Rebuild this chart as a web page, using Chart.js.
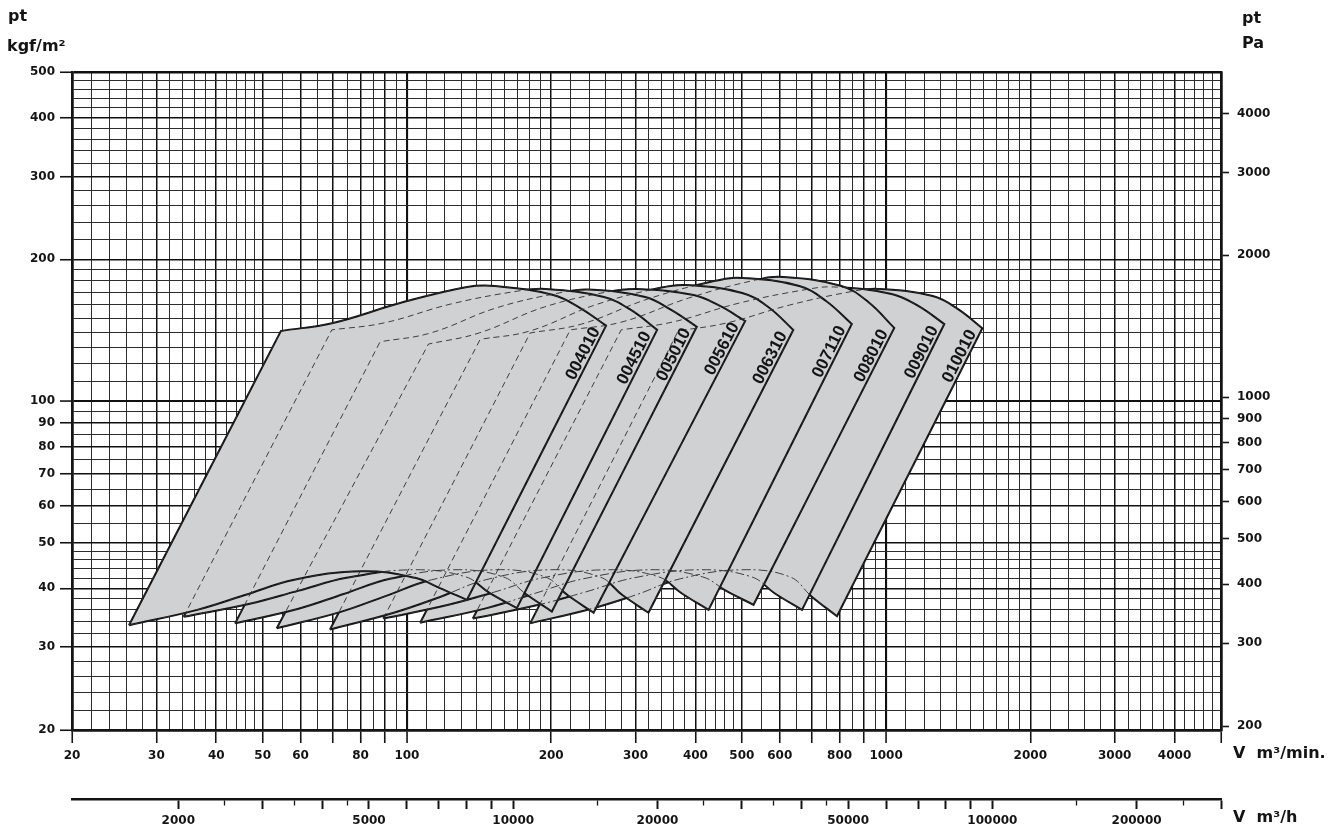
<!DOCTYPE html>
<html>
<head>
<meta charset="utf-8">
<script src="https://cdn.jsdelivr.net/npm/chart.js@4.4.1/dist/chart.umd.min.js"></script>
<style>
  html, body { margin: 0; padding: 0; background: #ffffff; }
  #wrap { width: 1330px; height: 825px; position: relative; }
</style>
</head>
<body>
<div id="wrap"><canvas id="fanChart" width="1330" height="825"></canvas></div>
<script>
// Fan sizes, from the front card (left) to the back card (right)
const fanModels = ['004010', '004510', '005010', '005610', '006310', '007110', '008010', '009010', '010010'];

// Upper boundary of each fan field, left corner to right corner: [V m3/min, pt kgf/m2]
const top004010 = [[54.6,140.9],[70.1,146.5],[96.8,161.5],[133.5,174.7],[152.8,175.5],[202,167.9],[230,157.6],[260.4,144.6]];
const top004510 = [[69.7,141.6],[89.5,146.5],[123.5,160.7],[170.3,171.2],[194.8,173.0],[257.7,166.3],[293.4,156.1],[332.8,141.6]];
const top005010 = [[87.9,133.6],[112.1,139.5],[153.4,157.6],[209.8,170.0],[239.3,172.5],[314.2,166.3],[356.0,156.1],[402.6,143.8]];
const top005610 = [[110.9,132.1],[141.5,139.5],[193.6,158.4],[264.9,170.9],[302.0,173.0],[396.6,167.9],[450.0,159.2],[508.2,147.9]];
const top006310 = [[142.2,135.2],[180.8,140.9],[246.7,159.9],[336.0,173.8],[382.6,176.4],[500.8,169.6],[567.6,158.4],[640.2,141.6]];
const top007110 = [[180.8,139.5],[231.5,145.7],[318.3,164.7],[437.6,179.8],[499.6,182.5],[658.9,175.5],[749.4,163.1],[848.1,145.7]];
const top008010 = [[219.2,141.6],[281.1,147.2],[387.5,165.5],[534.0,180.7],[610.6,183.4],[807.0,175.5],[918.0,162.3],[1040,143.0]];
const top009010 = [[280.0,141.6],[358.9,147.2],[494.2,161.5],[680.8,172.5],[777.8,174.7],[1027,168.8],[1167,159.2],[1323,145.7]];
const top010010 = [[368.2,140.9],[465.1,146.5],[628.8,159.9],[849.8,170.9],[963.2,173.0],[1251,167.1],[1413,156.8],[1588,142.8]];

// Lower boundary of each fan field, left corner to right corner
const bottom004010 = [[26.3,33.4],[36.5,36.0],[45.9,38.7],[58.2,41.7],[80.6,43.5],[104,42.1],[116.8,40.1],[133.4,37.8]];
const bottom004510 = [[34.2,34.8],[47.0,37.1],[59.2,39.5],[74.8,42.1],[103.2,43.8],[132.7,42.3],[148.7,39.1],[169.6,36.3]];
const bottom005010 = [[43.8,33.7],[59.4,36.2],[73.8,38.9],[92.2,41.9],[125.2,43.8],[158.9,42.3],[177.1,38.9],[200.7,35.7]];
const bottom005610 = [[53.5,32.9],[72.5,35.6],[90.2,38.5],[112.6,41.7],[152.9,43.8],[194.2,42.3],[216.3,38.7],[245.2,35.5]];
const bottom006310 = [[69.1,32.7],[93.9,35.5],[116.9,38.3],[146.0,41.7],[198.7,43.8],[252.7,42.3],[281.6,38.7],[319.2,35.5]];
const bottom007110 = [[89.3,34.5],[122.1,36.9],[152.6,39.3],[191.7,42.1],[262.4,43.8],[335.4,42.3],[374.9,39.0],[426.1,36.0]];
const bottom008010 = [[106.6,33.8],[146.8,36.3],[184.6,39.0],[233.3,41.9],[321.9,43.8],[414.0,42.3],[463.8,39.5],[528.8,36.9]];
const bottom009010 = [[137.3,34.5],[188.3,36.9],[236.1,39.3],[297.5,42.1],[408.8,43.8],[524.0,42.3],[586.2,39.0],[667.6,36.0]];
const bottom010010 = [[180.8,33.7],[242.8,36.2],[299.8,38.7],[371.8,41.9],[499.8,43.8],[630.2,42.3],[699.8,38.4],[789.8,34.9]];

// Log paper rulings and labels
const flowGrid = [20,22,24,26,28,30,32,34,36,38,40,42,44,46,48,50,55,60,65,70,75,80,85,90,95,
  100,110,120,130,140,150,160,170,180,190,200,220,240,260,280,300,320,340,360,380,400,420,440,460,480,
  500,550,600,650,700,750,800,850,900,950,1000,1100,1200,1300,1400,1500,1600,1700,1800,1900,
  2000,2200,2400,2600,2800,3000,3200,3400,3600,3800,4000,4200,4400,4600,4800,5000];
const flowLabels = [20,30,40,50,60,80,100,200,300,400,500,600,800,1000,2000,3000,4000];
const pressureGrid = [20,22,24,26,28,30,32,34,36,38,40,42,44,46,48,50,55,60,65,70,75,80,85,90,95,
  100,110,120,130,140,150,160,170,180,190,200,220,240,260,280,300,320,340,360,380,400,420,440,460,480,500];
const pressureLabels = [20,30,40,50,60,70,80,90,100,200,300,400,500];
const pascalTicks = [200,300,400,500,600,700,800,900,1000,2000,3000,4000];
const hourTicks = [2000,2500,3000,3500,4000,4500,5000,6000,7000,8000,9000,10000,15000,20000,25000,30000,
  35000,40000,45000,50000,60000,70000,80000,90000,100000,150000,200000,250000,300000];
const hourLabels = [2000,5000,10000,20000,50000,100000,200000];

const PA_PER_KGF = 9.80665;   // 1 kgf/m2 in Pa
const MIN_PER_H = 60;

const fanTops = [top004010, top004510, top005010, top005610, top006310, top007110, top008010, top009010, top010010];
const fanBottoms = [bottom004010, bottom004510, bottom005010, bottom005610, bottom006310, bottom007110, bottom008010, bottom009010, bottom010010];

// Closed outline: left edge, upper curve, right edge, lower curve back to start.
// Corner points appear twice so the smoothing keeps them sharp.
function outline(top, bottom) {
  const last = a => a[a.length - 1];
  const pts = [bottom[0], top[0], ...top, last(top), last(bottom), ...bottom.slice().reverse()];
  return pts.map(([x, y]) => ({ x, y }));
}

function isWhole(v) {
  const p = Math.pow(10, Math.floor(Math.log10(v) + 1e-9));
  return Math.abs(v / p - Math.round(v / p)) < 1e-6;
}
function isDecade(v) {
  const l = Math.log10(v);
  return Math.abs(l - Math.round(l)) < 1e-9;
}

const INK = '#141414';
const FIELD = '#d0d1d3';

const datasets = [];
fanModels.forEach((name, i) => {
  datasets.push({
    label: name,
    data: outline(fanTops[i], fanBottoms[i]),
    order: i + 1,
    fill: 'shape',
    backgroundColor: FIELD,
    borderColor: INK,
    borderWidth: 2,
    borderJoinStyle: 'miter',
    tension: 0.4,
    pointRadius: 0,
    pointHoverRadius: 0
  });
});
// hidden edges of the cards lying behind, drawn thin and broken
fanModels.forEach((name, i) => {
  const n = fanTops[i].length;
  datasets.push({
    label: name + ' hidden',
    data: outline(fanTops[i], fanBottoms[i]),
    order: 0,
    fill: false,
    borderColor: '#2e2e2e',
    borderWidth: 0.9,
    tension: 0.4,
    pointRadius: 0,
    pointHoverRadius: 0,
    segment: {
      borderDash: c => (c.p0DataIndex >= n + 3 ? [9, 3, 2, 3] : [6, 4])
    }
  });
});

const tickFont = { family: '"DejaVu Sans", sans-serif', size: 12, weight: 'bold' };

function gridColor(c) { const v = c.tick ? c.tick.value : 0; return isWhole(v) ? '#101010' : '#2c2c2c'; }
function gridWidth(c, lo, hi) {
  const v = c.tick ? c.tick.value : 0;
  if (v === lo || v === hi) return 2.5;
  if (isDecade(v)) return 2.1;
  return isWhole(v) ? 1.5 : 1;
}

// Rotated size names along the right edge of each card
const fanLabelPlugin = {
  id: 'fanLabels',
  afterDatasetsDraw(chart) {
    const { ctx, scales: { x, y } } = chart;
    ctx.save();
    ctx.font = 'bold 17px "Liberation Sans", Arial, sans-serif';
    ctx.fillStyle = INK;
    ctx.textAlign = 'right';
    ctx.textBaseline = 'alphabetic';
    fanModels.forEach((name, i) => {
      const t = fanTops[i][fanTops[i].length - 1];
      const b = fanBottoms[i][fanBottoms[i].length - 1];
      const tx = x.getPixelForValue(t[0]), ty = y.getPixelForValue(t[1]);
      const bx = x.getPixelForValue(b[0]), by = y.getPixelForValue(b[1]);
      const len = Math.hypot(tx - bx, ty - by);
      const ux = (tx - bx) / len, uy = (ty - by) / len;
      ctx.save();
      ctx.translate(tx - ux * 7, ty - uy * 7);
      ctx.rotate(Math.atan2(ty - by, tx - bx));
      ctx.fillText(name, 0, -3);
      ctx.restore();
    });
    ctx.restore();
  }
};

// Quantity and unit captions beside the axes
const captionPlugin = {
  id: 'captions',
  afterDraw(chart) {
    const { ctx, chartArea: a } = chart;
    ctx.save();
    ctx.fillStyle = INK;
    ctx.textAlign = 'left';
    ctx.textBaseline = 'alphabetic';
    ctx.font = 'bold 16px "DejaVu Sans", sans-serif';
    ctx.fillText('pt', 8, 21);
    ctx.fillText('kgf/m²', 7, 51);
    ctx.fillText('pt', a.right + 21, 23);
    ctx.fillText('Pa', a.right + 21, 48);
    ctx.fillText('V  m³/min.', a.right + 12, a.bottom + 28);
    ctx.fillText('V  m³/h', a.right + 12, a.bottom + 92);
    ctx.restore();
  }
};

Chart.defaults.font.family = '"DejaVu Sans", sans-serif';
Chart.defaults.color = INK;

new Chart(document.getElementById('fanChart'), {
  type: 'line',
  data: { datasets },
  options: {
    responsive: false,
    animation: false,
    devicePixelRatio: 1,
    events: [],
    layout: { padding: { top: 72, left: 0, right: 0, bottom: 0 } },
    plugins: { legend: { display: false }, tooltip: { enabled: false } },
    scales: {
      x: {
        type: 'logarithmic', position: 'bottom', weight: 1,
        min: 20, max: 5000,
        afterBuildTicks: ax => { ax.ticks = flowGrid.map(v => ({ value: v })); },
        afterFit: ax => { ax.height = 69; },
        ticks: {
          autoSkip: false, maxRotation: 0, minRotation: 0, padding: 6, font: tickFont, color: INK,
          callback: v => (flowLabels.includes(v) ? String(v) : '')
        },
        grid: {
          color: gridColor, lineWidth: c => gridWidth(c, 20, 5000),
          tickLength: 13, tickWidth: 1.6,
          tickColor: c => (c.tick && isWhole(c.tick.value) ? INK : 'rgba(0,0,0,0)')
        },
        border: { color: INK, width: 2.5 }
      },
      x2: {
        type: 'logarithmic', position: 'bottom', weight: 2,
        min: 20 * MIN_PER_H, max: 5000 * MIN_PER_H,
        afterBuildTicks: ax => { ax.ticks = hourTicks.map(v => ({ value: v })); },
        afterFit: ax => { ax.height = 26; },
        ticks: {
          autoSkip: false, maxRotation: 0, minRotation: 0, padding: 5, font: tickFont, color: INK,
          callback: v => (hourLabels.includes(v) ? String(v) : '')
        },
        grid: {
          drawOnChartArea: false, tickLength: 10, tickColor: INK,
          tickWidth: c => (c.tick && isWhole(c.tick.value) ? 2 : 1.3),
          tickBorderDash: c => (c.tick && isWhole(c.tick.value) ? [] : [5, 30])
        },
        border: { color: INK, width: 2.5 }
      },
      y: {
        type: 'logarithmic', position: 'left',
        min: 20, max: 500,
        afterBuildTicks: ax => { ax.ticks = pressureGrid.map(v => ({ value: v })); },
        afterFit: ax => { ax.width = 72; },
        ticks: {
          autoSkip: false, padding: 5, font: tickFont, color: INK,
          callback: v => (pressureLabels.includes(v) ? String(v) : '')
        },
        grid: {
          color: gridColor, lineWidth: c => gridWidth(c, 20, 500),
          tickLength: 12, tickWidth: 1.6,
          tickColor: c => (c.tick && pressureLabels.includes(c.tick.value) ? INK : 'rgba(0,0,0,0)')
        },
        border: { color: INK, width: 2.5 }
      },
      y2: {
        type: 'logarithmic', position: 'right',
        min: 20 * PA_PER_KGF, max: 500 * PA_PER_KGF,
        afterBuildTicks: ax => { ax.ticks = pascalTicks.map(v => ({ value: v })); },
        afterFit: ax => { ax.width = 109; },
        ticks: {
          autoSkip: false, padding: 8, font: tickFont, color: INK,
          callback: v => String(v)
        },
        grid: { drawOnChartArea: false, tickLength: 8, tickWidth: 1.6, tickColor: INK },
        border: { color: INK, width: 2.5 }
      }
    }
  },
  plugins: [fanLabelPlugin, captionPlugin]
});
</script>
</body>
</html>
